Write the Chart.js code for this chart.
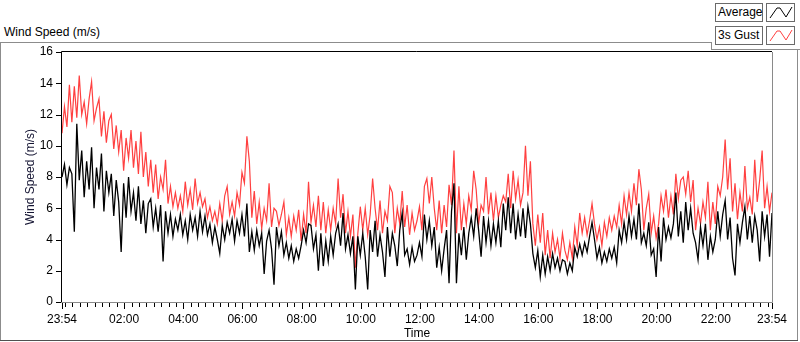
<!DOCTYPE html>
<html>
<head>
<meta charset="utf-8">
<title>Wind Speed</title>
<script src="https://cdn.jsdelivr.net/npm/chart.js@4.4.0/dist/chart.umd.min.js"></script>
<style>
  html, body { margin: 0; padding: 0; background: #fff; }
  body { width: 800px; height: 342px; position: relative; overflow: hidden;
         font-family: "Liberation Sans", Arial, sans-serif; font-size: 12px; color: #000; }
  .line { position: absolute; background: #8c8c8c; }
  #panelTitle { position: absolute; left: 4px; top: 25px; line-height: 14px; }
  .lbox { position: absolute; left: 715px; border: 1px solid #6a6a6a; line-height: 17px;
          padding-left: 2px; box-sizing: border-box; width: 48px; height: 19px; background: #fff; }
  .lsample { position: absolute; left: 766px; width: 29px; height: 19px; border: 1px solid #6a6a6a;
             box-sizing: border-box; background: #fff; }
  .lsample svg { position: absolute; left: 0; top: 0; }
  #wrap { position: absolute; left: 0; top: 0; width: 800px; height: 342px; }
</style>
</head>
<body>
<div class="line" style="left:0;top:42px;width:711px;height:1px"></div>
<div class="line" style="left:711px;top:42px;width:1px;height:8px"></div>
<div class="line" style="left:711px;top:49px;width:89px;height:1px"></div>
<div class="line" style="left:0;top:42px;width:1px;height:299px"></div>
<div class="line" style="left:797px;top:49px;width:1px;height:292px"></div>
<div class="line" style="left:0;top:340px;width:798px;height:1px;background:#505050"></div>
<div id="panelTitle">Wind Speed (m/s)</div>

<div class="lbox" style="top:3px">Average</div>
<div class="lsample" style="top:3px"><svg width="27" height="17"><polyline points="3,14 10,4 13,4 19,13 25,3" fill="none" stroke="#000" stroke-width="1"/></svg></div>
<div class="lbox" style="top:26px">3s Gust</div>
<div class="lsample" style="top:26px"><svg width="27" height="17"><polyline points="3,14 10,4 13,4 19,13 25,3" fill="none" stroke="#ff4040" stroke-width="1"/></svg></div>

<div id="wrap"><canvas id="windChart" width="800" height="342"></canvas></div>

<script>
// 5-minute samples starting 23:54, one row per hour
const avgSpeed = [
  8.0, 8.8, 7.5, 8.6, 8.2, 4.5, 11.4, 7.8, 9.7, 6.7, 9.0, 7.2,
  9.9, 6.0, 8.6, 7.2, 9.5, 5.8, 8.4, 7.0, 8.2, 5.5, 7.8, 6.4,
  3.2, 7.6, 5.4, 8.0, 5.8, 7.0, 5.2, 7.4, 5.0, 6.5, 4.4, 6.3,
  6.6, 4.8, 6.0, 4.5, 6.2, 2.6, 5.8, 4.4, 5.6, 4.2, 5.3, 4.6,
  5.6, 4.3, 5.2, 4.0, 5.6, 4.6, 5.4, 4.2, 5.8, 4.5, 5.5, 4.3,
  5.0, 3.8, 4.8, 4.0, 3.1, 4.9, 4.0, 5.1, 4.4, 5.3, 3.9, 5.2,
  4.4, 5.6, 4.2, 6.3, 3.2, 4.5, 3.3, 4.6, 3.6, 4.4, 1.8, 3.9,
  4.6, 3.4, 1.1, 4.8, 3.6, 4.5, 3.0, 3.8, 2.8, 3.6, 2.6, 3.4,
  2.8, 3.6, 4.6, 3.8, 5.0, 4.9, 3.4, 4.3, 2.0, 4.4, 2.3, 3.9,
  2.6, 4.2, 3.0, 4.4, 5.0, 3.6, 5.7, 3.4, 4.3, 3.1, 4.2, 0.8,
  4.2, 3.0, 4.4, 2.9, 0.8, 4.6, 3.2, 5.2, 2.9, 4.3, 3.2, 1.6,
  4.8, 2.9, 4.4, 3.6, 2.3, 4.6, 5.7, 3.0, 3.4, 2.4, 3.5, 2.6,
  3.0, 3.8, 2.9, 5.6, 4.0, 5.2, 3.6, 4.8, 2.2, 3.5, 2.0, 3.4,
  4.6, 1.2, 5.8, 7.6, 1.2, 4.4, 3.0, 4.8, 2.7, 4.4, 5.4, 4.2,
  6.0, 4.6, 2.9, 5.5, 3.8, 5.2, 3.6, 5.0, 3.8, 5.2, 3.5, 6.3,
  4.6, 6.7, 4.4, 6.3, 4.0, 5.6, 4.2, 6.0, 4.1, 6.1, 5.0, 3.1,
  2.2, 3.3, 1.6, 3.0, 1.8, 2.9, 2.0, 3.1, 2.2, 2.8, 2.0, 2.7,
  2.6, 1.8, 2.5, 2.0, 3.5, 2.9, 3.7, 3.0, 3.8, 3.2, 4.2, 5.1,
  4.0, 2.8, 3.5, 2.5, 3.2, 2.6, 3.4, 2.8, 3.5, 2.5, 4.6, 3.8,
  5.1, 4.0, 5.5, 4.2, 5.3, 4.0, 6.3, 3.8, 4.4, 3.6, 5.1, 3.0,
  3.4, 1.6, 4.8, 2.6, 5.4, 4.0, 4.8, 4.1, 5.0, 7.0, 4.2, 5.8,
  3.8, 6.4, 4.6, 6.0, 4.4, 3.8, 2.7, 4.8, 3.6, 5.0, 2.7, 4.2,
  3.2, 4.0, 5.8, 4.2, 5.6, 6.5, 4.0, 5.4, 2.8, 1.7, 5.0, 3.8,
  5.1, 6.1, 4.0, 5.5, 3.8, 5.5, 4.6, 2.6, 5.8, 4.2, 5.6, 2.9, 5.7
];

const gustSpeed = [
  10.8, 12.5, 11.2, 13.9, 11.5, 13.8, 11.8, 14.5, 12.0, 12.8, 11.4, 13.0,
  14.1, 11.6, 12.4, 13.0, 10.6, 12.2, 10.2, 11.6, 12.0, 9.8, 11.3, 9.6,
  11.0, 8.4, 10.5, 9.2, 11.0, 8.6, 10.3, 8.2, 10.9, 8.0, 9.6, 7.4,
  9.1, 7.0, 8.8, 6.6, 8.0, 7.2, 9.1, 6.3, 7.4, 6.1, 7.0, 6.0,
  6.8, 5.8, 7.7, 6.2, 7.2, 5.9, 7.9, 6.3, 7.0, 6.1, 6.6, 5.4,
  6.1, 5.2, 5.8, 5.0, 6.3, 5.2, 6.8, 7.4, 5.6, 6.4, 5.5, 7.0,
  6.2, 8.3, 7.6, 10.6, 9.0, 5.4, 7.1, 5.0, 6.4, 4.7, 6.0, 5.2,
  7.6, 4.8, 6.0, 5.8, 4.9, 5.6, 6.4, 4.3, 5.4, 4.2, 5.5, 4.6,
  5.9, 3.9, 5.6, 4.4, 7.7, 5.1, 6.2, 4.8, 6.8, 4.6, 6.4, 4.4,
  5.9, 4.6, 6.0, 5.0, 7.9, 5.4, 6.9, 4.4, 5.8, 4.2, 5.6, 2.2,
  4.4, 6.1, 4.6, 6.0, 4.3, 5.6, 7.9, 6.0, 4.6, 6.5, 4.4, 5.8,
  5.2, 7.4, 7.0, 4.4, 6.0, 5.0, 7.1, 4.8, 6.2, 4.3, 5.7, 4.6,
  5.2, 6.1, 4.6, 7.4, 7.9, 6.3, 8.0, 6.0, 4.6, 6.5, 4.4, 6.2,
  4.8, 7.5, 6.2, 9.7, 4.4, 7.4, 4.6, 6.3, 5.0, 6.8, 5.9, 8.4,
  7.2, 5.0, 6.2, 5.8, 8.0, 5.6, 7.0, 5.2, 6.8, 5.4, 6.2, 6.8,
  6.4, 8.2, 6.0, 8.4, 6.6, 7.8, 6.2, 7.0, 10.0, 6.8, 9.0, 5.0,
  3.6, 5.6, 3.8, 5.7, 3.0, 4.6, 2.8, 4.4, 3.2, 4.0, 2.8, 4.4,
  3.3, 2.7, 3.8, 2.8, 4.8, 3.6, 5.7, 4.4, 5.4, 4.3, 5.2, 6.3,
  5.0, 4.0, 4.8, 3.6, 5.1, 4.2, 5.4, 4.6, 5.5, 4.8, 6.2, 5.0,
  6.8, 5.6, 7.0, 5.8, 7.6, 6.2, 8.5, 7.2, 4.6, 6.0, 6.9, 4.4,
  5.5, 4.1, 5.0, 6.8, 5.8, 7.2, 5.4, 6.8, 5.6, 8.2, 6.6, 7.8,
  8.0, 6.9, 8.4, 6.4, 7.8, 4.6, 6.0, 5.0, 6.4, 5.4, 7.7, 4.6,
  6.4, 5.0, 7.4, 6.8, 8.0, 10.4, 7.2, 9.2, 5.8, 7.6, 5.3, 7.0,
  5.8, 8.7, 6.0, 6.7, 5.6, 9.1, 6.4, 7.8, 9.7, 6.0, 7.4, 5.8, 7.0
];

const sampleStepMinutes = 5;
const xTickMinutes = [0, 126, 246, 366, 486, 606, 726, 846, 966, 1086, 1206, 1326, 1440];
const xTickLabels = ['23:54', '02:00', '04:00', '06:00', '08:00', '10:00', '12:00',
                     '14:00', '16:00', '18:00', '20:00', '22:00', '23:54'];
const yTickValues = [0, 2, 4, 6, 8, 10, 12, 14, 16];

const toPoints = arr => arr.map((v, i) => ({ x: i * sampleStepMinutes, y: v }));

// minor ticks every 15 min on the clock, plus the two ends
const minorTicks = [0];
for (let m = 6; m < 1440; m += 15) minorTicks.push(m);
minorTicks.push(1440);

Chart.defaults.font.family = '"Liberation Sans", Arial, sans-serif';
Chart.defaults.font.size = 12;
Chart.defaults.color = '#000';

const axisMarks = {
  id: 'axisMarks',
  afterDraw(chart) {
    const { ctx, chartArea: a, scales: { x, y } } = chart;
    ctx.save();
    ctx.lineWidth = 1;
    ctx.strokeStyle = '#000';
    ctx.beginPath();
    minorTicks.forEach(m => {
      const px = Math.round(x.getPixelForValue(m)) + 0.5;
      const len = xTickMinutes.includes(m) ? 6 : 4;
      ctx.moveTo(px, a.bottom + 1);
      ctx.lineTo(px, a.bottom + 1 + len);
    });
    yTickValues.forEach(v => {
      const py = Math.round(y.getPixelForValue(v)) + 0.5;
      ctx.moveTo(a.left - 6, py);
      ctx.lineTo(a.left, py);
    });
    ctx.stroke();
    // plot frame: dark top/left, grey bottom/right
    ctx.beginPath();
    ctx.moveTo(a.left - 0.5, a.bottom);
    ctx.lineTo(a.left - 0.5, a.top - 0.5);
    ctx.lineTo(a.right, a.top - 0.5);
    ctx.stroke();
    ctx.strokeStyle = '#8a8a8a';
    ctx.beginPath();
    ctx.moveTo(a.right + 0.5, a.top);
    ctx.lineTo(a.right + 0.5, a.bottom + 0.5);
    ctx.lineTo(a.left - 1, a.bottom + 0.5);
    ctx.stroke();
    ctx.restore();
  }
};

new Chart(document.getElementById('windChart'), {
  type: 'line',
  data: {
    datasets: [
      { label: 'Average', data: toPoints(avgSpeed), borderColor: '#000', borderWidth: 1.3,
        pointRadius: 0, tension: 0, fill: false },
      { label: '3s Gust', data: toPoints(gustSpeed), borderColor: '#ff4040', borderWidth: 1.2,
        pointRadius: 0, tension: 0, fill: false }
    ]
  },
  options: {
    responsive: false,
    animation: false,
    devicePixelRatio: 1,
    layout: { padding: { top: 52, right: 28, bottom: 0, left: 0 } },
    plugins: { legend: { display: false }, tooltip: { enabled: false } },
    scales: {
      x: {
        type: 'linear', min: 0, max: 1440,
        afterFit: s => { s.height = 40; },
        afterBuildTicks: s => { s.ticks = xTickMinutes.map(v => ({ value: v })); },
        ticks: {
          autoSkip: false, maxRotation: 0, padding: 10,
          callback: v => xTickLabels[xTickMinutes.indexOf(v)]
        },
        grid: { display: false, drawTicks: false },
        border: { display: false },
        title: { display: true, text: 'Time', padding: { top: 0, bottom: 1 } }
      },
      y: {
        min: 0, max: 16,
        afterFit: s => { s.width = 62; },
        afterBuildTicks: s => { s.ticks = yTickValues.map(v => ({ value: v })); },
        ticks: { padding: 9 },
        grid: { display: false, drawTicks: false },
        border: { display: false },
        title: { display: true, text: 'Wind Speed (m/s)', color: '#141432', padding: { top: 23, bottom: 0 } }
      }
    }
  },
  plugins: [axisMarks]
});
</script>
</body>
</html>
